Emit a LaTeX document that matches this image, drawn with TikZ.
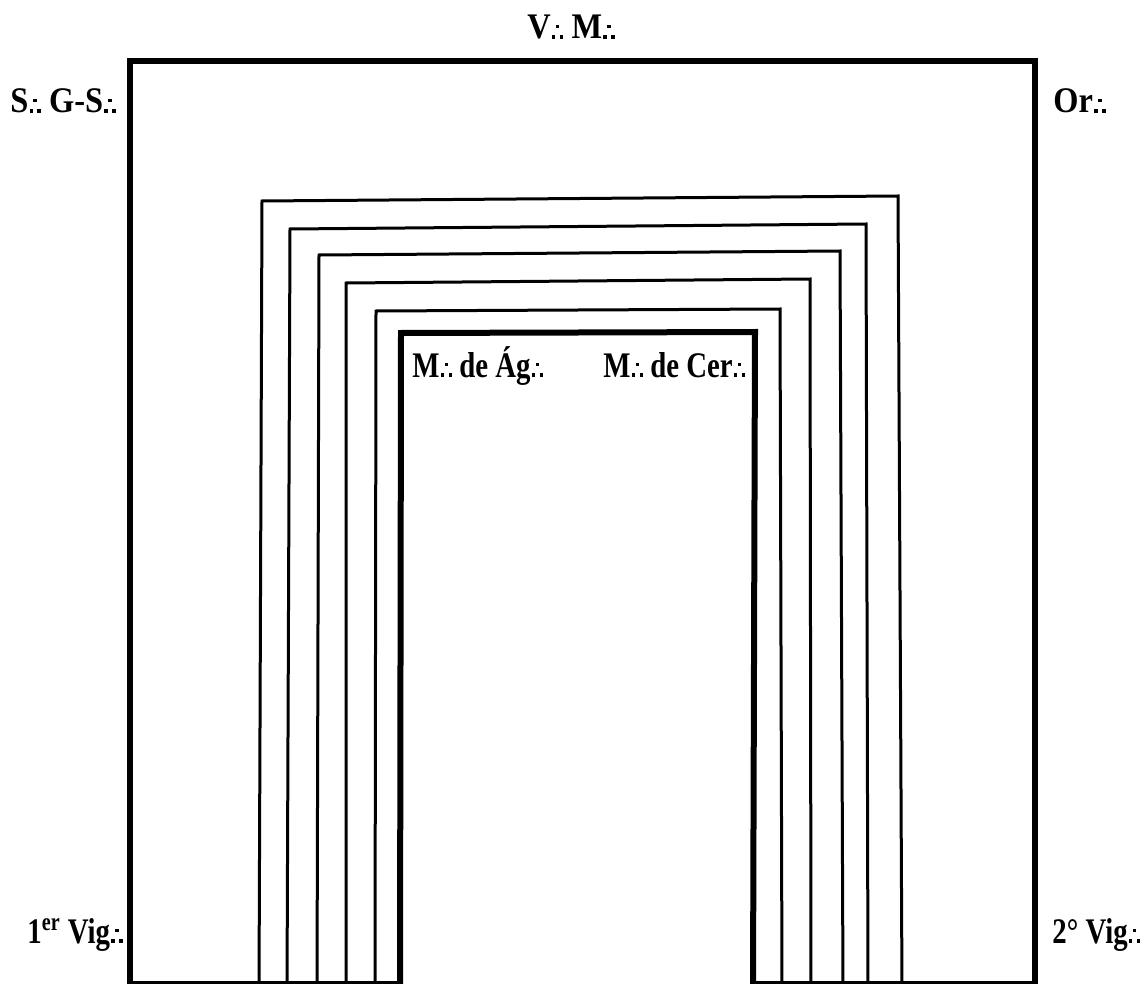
\documentclass[tikz,border=0pt]{standalone}
\usepackage{fontspec}
\setmainfont{Liberation Serif}
\newfontfamily\wideserif{Liberation Serif}[FakeStretch=0.9]
\newfontfamily\narrowserif{Liberation Serif}[FakeStretch=0.8]
\newcommand{\thrdots}{\kern0.03em\rule{0.1em}{0.1em}\kern0.01em\raisebox{0.3em}{\rule{0.1em}{0.1em}}\kern0.01em\rule{0.1em}{0.1em}}
\begin{document}
\begin{tikzpicture}[x=0.5pt,y=-0.5pt,
  frame/.style={line width=2.6pt,line join=miter},
  ushape/.style={line width=1.5pt,line join=miter},
  thicku/.style={line width=3pt,line join=miter},
  floor/.style={line width=1.5pt},
  lbl/.style={inner sep=0pt,anchor=base west},
  toplbl/.style={lbl,font=\wideserif\bfseries\fontsize{18}{18}\selectfont},
  inlbl/.style={lbl,font=\narrowserif\bfseries\fontsize{18}{18}\selectfont}]
\useasboundingbox (0,0) rectangle (1145,984);
% outer frame
\draw[frame] (130,990) -- (130,61) -- (1035,61) -- (1035,990);
% floor segments
\coordinate (fl1) at (130,982);
\coordinate (fl2) at (401,982);
\coordinate (fr1) at (753,982);
\coordinate (fr2) at (1035,982);
\draw[floor] (fl1) -- (fl2);
\draw[floor] (fr1) -- (fr2);
% nested inverted U shapes
\draw[ushape] (259,990) -- (262,201) -- (898,196) -- (902,990);
\draw[ushape] (287,990) -- (290,229) -- (866,224) -- (868,990);
\draw[ushape] (317,990) -- (319,255) -- (840,251) -- (843,990);
\draw[ushape] (346,990) -- (346,283) -- (810,279) -- (811,990);
\draw[ushape] (375,990) -- (376,311) -- (780,309) -- (782,990);
\draw[thicku] (400,990) -- (401,333) -- (755,332) -- (753,990);
% labels
\node[toplbl] (vm) at (527,39) {V\thrdots{} M\thrdots};
\node[toplbl] (sgs) at (10,113) {S\thrdots{} G-S\thrdots};
\node[toplbl] (or) at (1053,113) {Or\thrdots};
\node[inlbl] (mag) at (412,377) {M\thrdots{} de Ág\thrdots};
\node[inlbl] (mcer) at (603,377) {M\thrdots{} de Cer\thrdots};
\node[inlbl] (vig1) at (27,943) {1\textsuperscript{er} Vig\thrdots};
\node[inlbl] (vig2) at (1052,943) {2° Vig\thrdots};
\end{tikzpicture}
\end{document}
